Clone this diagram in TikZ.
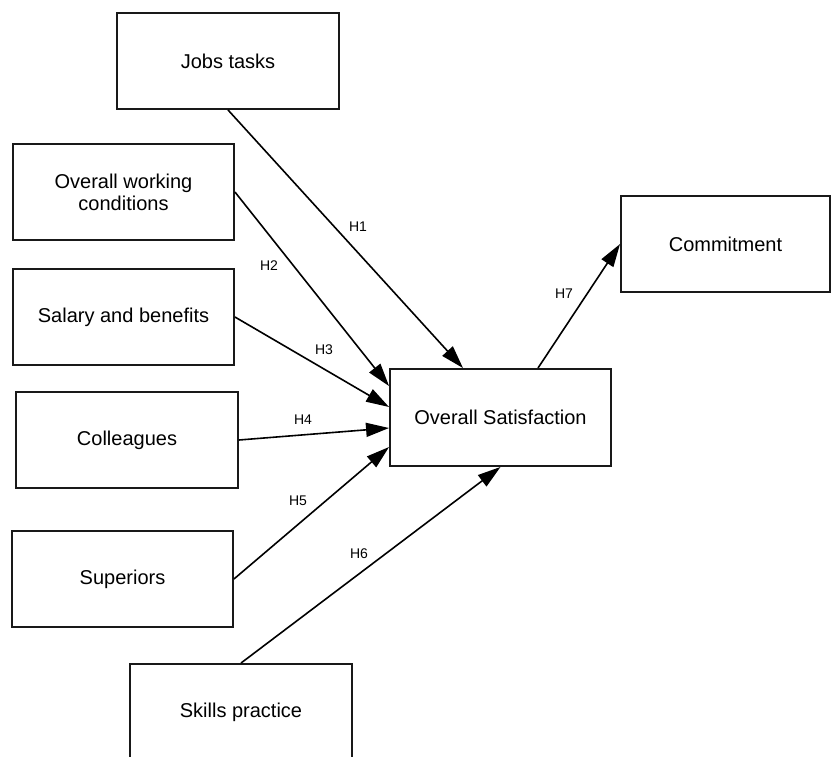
\documentclass[tikz,border=0pt]{standalone}
\usepackage{fontspec}
\setmainfont{Liberation Sans}
\usetikzlibrary{arrows.meta}

\begin{document}
\begin{tikzpicture}[x=1pt,y=-1pt,
    factor/.style={draw=black!90,line width=1.9pt,minimum width=222pt,
      minimum height=96pt,align=center,inner sep=0pt,
      font=\fontsize{20}{22}\selectfont},
    hlabel/.style={font=\fontsize{14}{16}\selectfont,inner sep=0pt}]
  \newcommand{\hypline}[4]{%
    \draw[line width=1.6pt,-{Triangle[length=23pt,width=14pt]}] (#1) -- (#2);
    \node[hlabel] (#3) at (#4) {#3};
  }
  \useasboundingbox (0,0) rectangle (831,756);
  \node[factor] (jobs) at (228,61) {Jobs tasks};
  \node[factor,minimum width=221pt] (owc) at (123.5,192) {Overall working\\conditions};
  \node[factor,minimum width=221pt] (salary) at (123.5,317) {Salary and benefits};
  \node[factor] (coll) at (127,440) {Colleagues};
  \node[factor,minimum width=221pt] (sup) at (122.5,579) {Superiors};
  \node[factor] (skills) at (241,712) {Skills practice};
  \node[factor,minimum width=221pt,minimum height=97pt] (sat) at (500.5,417.5) {Overall Satisfaction};
  \node[factor,minimum width=209pt] (commit) at (725.5,244) {Commitment};
  \hypline{jobs.south}{[xshift=-37.5pt]sat.north}{H1}{358,227}
  \hypline{owc.east}{[yshift=-18pt]sat.north west}{H2}{269,266}
  \hypline{salary.east}{[yshift=10.5pt]sat.west}{H3}{324,350}
  \hypline{coll.east}{[yshift=-10.5pt]sat.west}{H4}{303,420}
  \hypline{sup.east}{[yshift=-29.5pt]sat.west}{H5}{298,501}
  \hypline{skills.north}{sat.south}{H6}{359,554}
  \hypline{[xshift=37.5pt]sat.north}{commit.west}{H7}{564,294}
\end{tikzpicture}
\end{document}
